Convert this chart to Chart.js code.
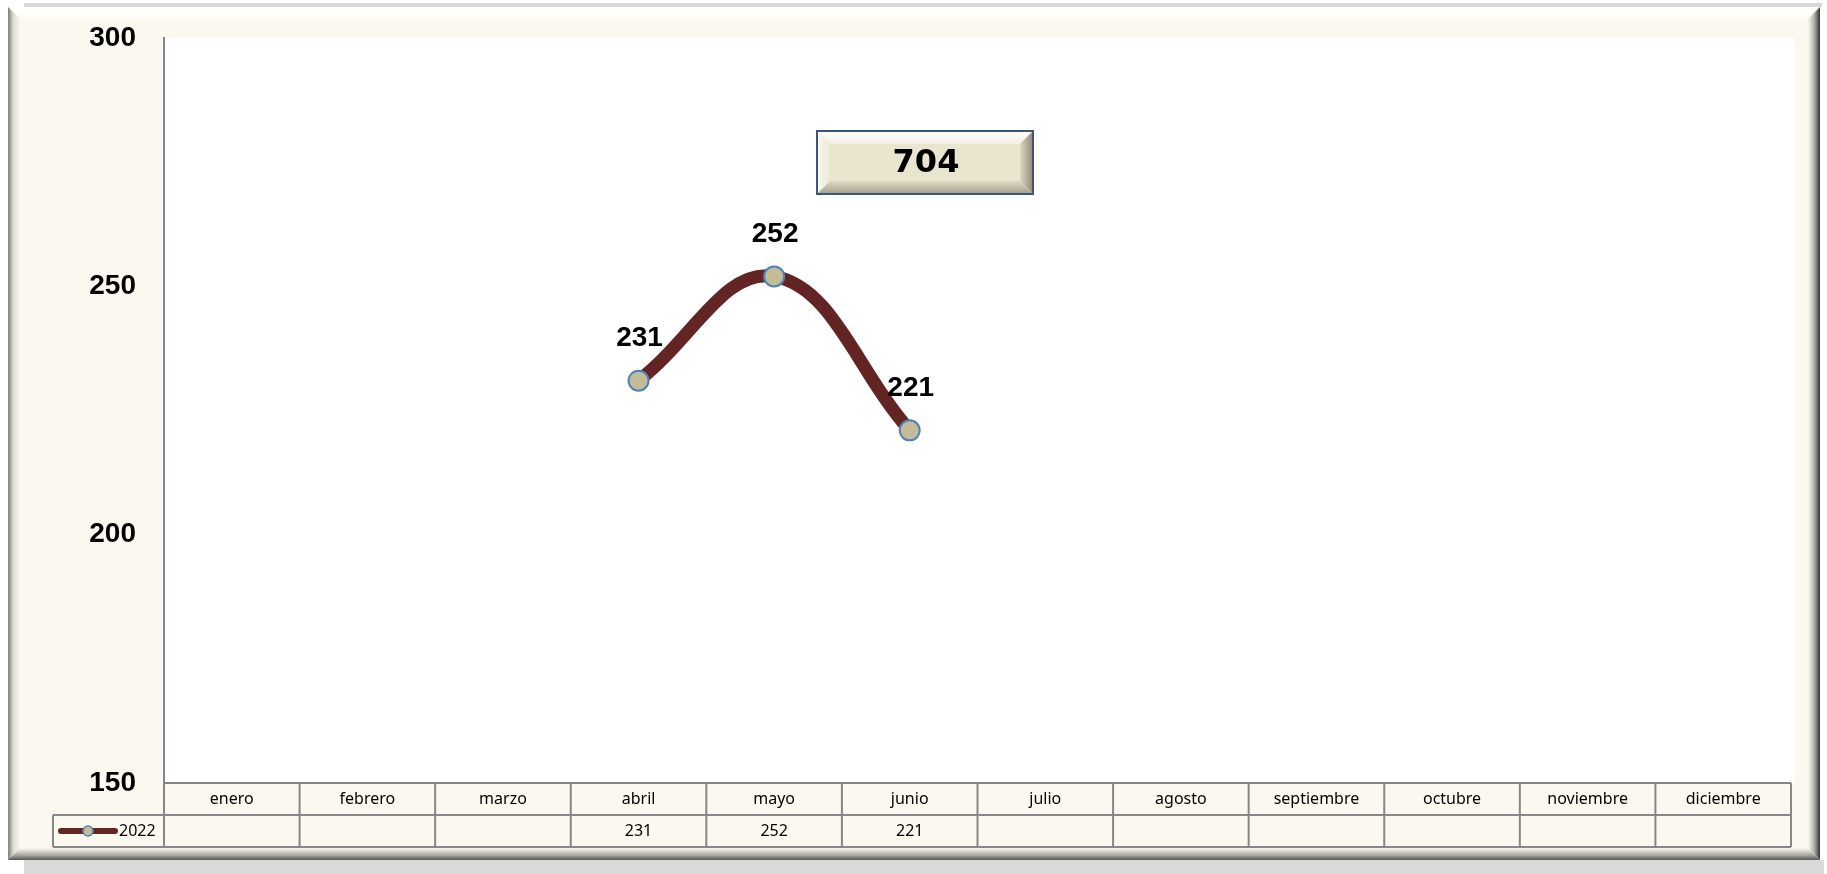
<!DOCTYPE html>
<html>
<head>
<meta charset="utf-8">
<script src="https://cdn.jsdelivr.net/npm/chart.js@4.4.0/dist/chart.umd.min.js"></script>
<style>
  html, body { margin: 0; padding: 0; background: #fff; overflow: hidden; }
</style>
</head>
<body>
<canvas id="myChart" width="1827" height="874"></canvas>
<script>
const months = ['enero', 'febrero', 'marzo', 'abril', 'mayo', 'junio', 'julio',
  'agosto', 'septiembre', 'octubre', 'noviembre', 'diciembre'];
const seriesName = '2022';
const values2022 = [null, null, null, 231, 252, 221, null, null, null, null, null, null];
const yTicks = [150, 200, 250, 300];

// total shown in the bevel box (231 + 252 + 221)
const total = values2022.reduce((a, b) => a + (b || 0), 0);

const cream = '#FBF9EF';
const lineColor = '#632523';
const markerFill = '#C4BC96';
const markerEdge = '#4F81BD';
const gridGrey = '#878787';

function quad(ctx, pts, fill) {
  ctx.beginPath();
  ctx.moveTo(pts[0][0], pts[0][1]);
  for (let i = 1; i < pts.length; i++) ctx.lineTo(pts[i][0], pts[i][1]);
  ctx.closePath();
  ctx.fillStyle = fill;
  ctx.fill();
}

// outer bevelled frame + white plot area
const framePlugin = {
  id: 'frame',
  beforeDraw(chart) {
    const ctx = chart.ctx;
    const ca = chart.chartArea;
    const L = 8, T = 7, R = 1820, B = 860, bw = 12;
    ctx.save();
    // soft shadow
    ctx.fillStyle = '#D9D9D9';
    ctx.fillRect(24, 3, R - 22, T - 3);
    ctx.fillRect(24, B, R - 20, 874 - B);
    ctx.fillStyle = cream;
    ctx.fillRect(L, T, R - L, B - T);

    let g = ctx.createLinearGradient(0, T, 0, T + bw);
    g.addColorStop(0, '#FFFFFF');
    g.addColorStop(1, '#FCFBF4');
    quad(ctx, [[L, T], [R, T], [R - bw, T + bw], [L + bw, T + bw]], g);

    g = ctx.createLinearGradient(L, 0, L + bw, 0);
    g.addColorStop(0, '#7E7E7A');
    g.addColorStop(0.45, '#DEDCD2');
    g.addColorStop(1, cream);
    quad(ctx, [[L, T], [L + bw, T + bw], [L + bw, B - bw], [L, B]], g);

    g = ctx.createLinearGradient(R - bw, 0, R, 0);
    g.addColorStop(0, cream);
    g.addColorStop(0.5, '#B4B3AC');
    g.addColorStop(1, '#333333');
    quad(ctx, [[R, T], [R - bw, T + bw], [R - bw, B - bw], [R, B]], g);

    g = ctx.createLinearGradient(0, B - bw, 0, B);
    g.addColorStop(0, cream);
    g.addColorStop(0.6, '#A8A7A0');
    g.addColorStop(1, '#555555');
    quad(ctx, [[L, B], [L + bw, B - bw], [R - bw, B - bw], [R, B]], g);

    ctx.fillStyle = '#FFFFFF';
    ctx.fillRect(ca.left, ca.top, ca.right - ca.left + 4, ca.bottom - ca.top);
    ctx.restore();
  }
};

// value labels above the points
const labelPlugin = {
  id: 'pointLabels',
  afterDatasetsDraw(chart) {
    const ctx = chart.ctx;
    const meta = chart.getDatasetMeta(0);
    ctx.save();
    ctx.font = 'bold 28px "Liberation Sans"';
    ctx.fillStyle = '#000';
    ctx.textAlign = 'center';
    ctx.textBaseline = 'middle';
    meta.data.forEach((pt, i) => {
      const v = values2022[i];
      if (v == null) return;
      ctx.fillText(String(v), pt.x + 1, pt.y - 42);
    });
    ctx.restore();
  }
};

// data table under the plot + total box
const tablePlugin = {
  id: 'dataTable',
  afterDraw(chart) {
    const ctx = chart.ctx;
    const xs = chart.scales.x;
    const ca = chart.chartArea;
    const colW = (xs.right - xs.left) / months.length;
    const y0 = ca.bottom, y1 = y0 + 32, y2 = y1 + 32;
    const legL = 53;
    ctx.save();
    ctx.fillStyle = cream;
    ctx.fillRect(xs.left, y0, xs.right - xs.left, y2 - y0);
    ctx.fillRect(legL, y1, xs.left - legL, y2 - y1);

    ctx.strokeStyle = gridGrey;
    ctx.lineWidth = 2;
    ctx.beginPath();
    ctx.moveTo(xs.left, y0); ctx.lineTo(xs.right, y0);
    ctx.moveTo(legL, y1); ctx.lineTo(xs.right, y1);
    ctx.moveTo(legL, y2); ctx.lineTo(xs.right, y2);
    ctx.moveTo(legL, y1); ctx.lineTo(legL, y2);
    for (let i = 0; i <= months.length; i++) {
      const x = xs.left + i * colW;
      ctx.moveTo(x, y0); ctx.lineTo(x, y2);
    }
    ctx.stroke();

    ctx.fillStyle = '#000';
    ctx.font = '16px "Noto Sans"';
    ctx.textAlign = 'center';
    ctx.textBaseline = 'middle';
    months.forEach((m, i) => {
      const cx = xs.getPixelForValue(i);
      ctx.fillText(m, cx, (y0 + y1) / 2);
      if (values2022[i] != null) ctx.fillText(String(values2022[i]), cx, (y1 + y2) / 2);
    });

    // legend key
    const ly = (y1 + y2) / 2;
    ctx.strokeStyle = lineColor;
    ctx.lineWidth = 6;
    ctx.lineCap = 'round';
    ctx.beginPath();
    ctx.moveTo(61, ly); ctx.lineTo(115, ly);
    ctx.stroke();
    ctx.beginPath();
    ctx.arc(88, ly, 5, 0, Math.PI * 2);
    ctx.fillStyle = markerFill;
    ctx.fill();
    ctx.lineWidth = 1.5;
    ctx.strokeStyle = markerEdge;
    ctx.stroke();
    ctx.fillStyle = '#000';
    ctx.textAlign = 'left';
    ctx.fillText(seriesName, 119, ly);

    // total box
    const bx = 817, by = 131, bwid = 216, bh = 63, bv = 13;
    ctx.fillStyle = '#EAE5CF';
    ctx.fillRect(bx, by, bwid, bh);
    let g = ctx.createLinearGradient(0, by, 0, by + bv);
    g.addColorStop(0, '#FFFFFF'); g.addColorStop(1, '#F2EFE2');
    quad(ctx, [[bx, by], [bx + bwid, by], [bx + bwid - bv, by + bv], [bx + bv, by + bv]], g);
    g = ctx.createLinearGradient(bx, 0, bx + bv, 0);
    g.addColorStop(0, '#FAF8F0'); g.addColorStop(1, '#ECE8D6');
    quad(ctx, [[bx, by], [bx + bv, by + bv], [bx + bv, by + bh - bv], [bx, by + bh]], g);
    g = ctx.createLinearGradient(bx + bwid - bv, 0, bx + bwid, 0);
    g.addColorStop(0, '#DCD7C1'); g.addColorStop(1, '#8E8A78');
    quad(ctx, [[bx + bwid, by], [bx + bwid - bv, by + bv], [bx + bwid - bv, by + bh - bv], [bx + bwid, by + bh]], g);
    g = ctx.createLinearGradient(0, by + bh - bv, 0, by + bh);
    g.addColorStop(0, '#DFDAC4'); g.addColorStop(1, '#A29E8A');
    quad(ctx, [[bx, by + bh], [bx + bv, by + bh - bv], [bx + bwid - bv, by + bh - bv], [bx + bwid, by + bh]], g);
    ctx.lineWidth = 2;
    ctx.strokeStyle = '#3A5678';
    ctx.strokeRect(bx, by, bwid, bh);
    ctx.fillStyle = '#000';
    ctx.font = 'bold 32px "DejaVu Sans"';
    ctx.textAlign = 'center';
    ctx.fillText(String(total), bx + bwid / 2 + 1, by + bh / 2 + 1);
    ctx.restore();
  }
};

new Chart('myChart', {
  type: 'line',
  data: {
    labels: months,
    datasets: [{
      label: seriesName,
      data: values2022,
      borderColor: lineColor,
      borderWidth: 13,
      tension: 0.4,
      pointRadius: 10,
      pointBorderWidth: 2,
      pointBackgroundColor: markerFill,
      pointBorderColor: markerEdge,
      spanGaps: false
    }]
  },
  options: {
    responsive: false,
    animation: false,
    devicePixelRatio: 1,
    layout: {padding: {left: 0, top: 38, right: 36, bottom: 91}},
    plugins: {legend: {display: false}, tooltip: {enabled: false}},
    scales: {
      x: {display: false, offset: true},
      y: {
        min: 150,
        max: 300,
        afterFit(scale) {
          scale.width = 164;
          scale.paddingTop = 0;
          scale.paddingBottom = 0;
        },
        afterBuildTicks(scale) { scale.ticks = yTicks.map(v => ({value: v})); },
        grid: {display: false, drawTicks: false},
        border: {display: true, color: gridGrey, width: 2},
        ticks: {
          padding: 28,
          color: '#000',
          font: {family: '"Liberation Sans"', size: 28, weight: 'bold'}
        }
      }
    }
  },
  plugins: [framePlugin, labelPlugin, tablePlugin]
});
</script>
</body>
</html>
